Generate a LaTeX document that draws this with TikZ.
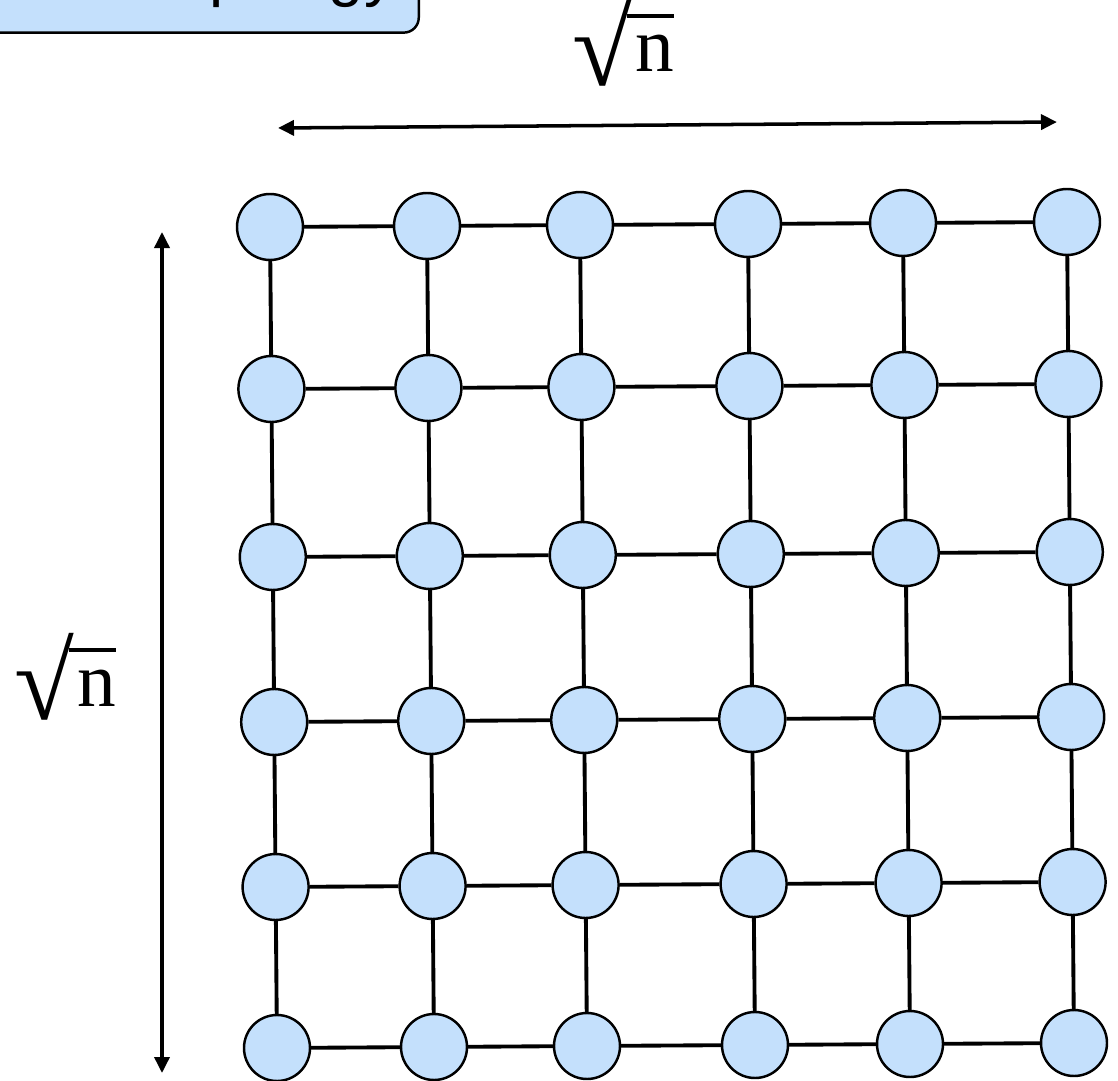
\documentclass[tikz,border=0pt]{standalone}
\usepackage{fontspec}
\setmainfont{Liberation Serif}
\setsansfont{Liberation Sans}
\usetikzlibrary{arrows.meta,positioning}
\definecolor{meshInk}{HTML}{000000}
\definecolor{meshFill}{HTML}{C4E0FC}
\tikzset{
  mesh node/.style={circle, draw=meshInk, line width=1.4pt, fill=meshFill,
    minimum size=13.2mm, inner sep=0pt},
  mesh link/.style={draw=meshInk, line width=2.2pt},
  mesh dim/.style={{Triangle[length=3.2mm,width=3mm]}-{Triangle[length=3.2mm,width=3mm]},
    draw=meshInk, line width=2pt},
  mesh label/.style={font=\fontsize{44}{48}\selectfont, inner sep=0pt},
  mesh title/.style={draw=meshInk, line width=1.4pt, rounded corners=3mm,
    fill=meshFill, font=\sffamily\fontsize{36}{40}\selectfont,
    inner xsep=4.6mm, inner ysep=4.9mm}
}
\newcommand{\meshsize}{\raisebox{-0.17em}{\fontsize{62}{62}\selectfont √}\kern-0.06em
  \rlap{\rule[0.70em]{0.6em}{0.045em}}\kern0.1em n}
\begin{document}
\begin{tikzpicture}[x=0.2mm,y=-0.2mm]
  \useasboundingbox (0,0) rectangle (1118,1081);
  % title box, mostly above the page
  \node[mesh title, anchor=base east] (title) at (420,-5) {Mesh Topology};
  % size arrows
  \coordinate (wl) at (278,128);
  \coordinate (wr) at (1057,122);
  \coordinate (ht) at (162,232);
  \coordinate (hb) at (162,1073);
  \draw[mesh dim] (wl) -- (wr);
  \draw[mesh dim] (ht) -- (hb);
  \node[mesh label, anchor=base] (wlab) at (623,72) {\meshsize};
  \node[mesh label, anchor=base] (hlab) at (65,706) {\meshsize};
  % the 6x6 mesh
  \foreach \c/\xc in {1/270,2/427,3/580,4/748,5/903,6/1067}{
    \foreach \r/\yr in {1/227,2/389,3/557,4/722,5/887,6/1048}{
      \node[mesh node] (n\r\c) at ({\xc+1.4*(\r-1)},{\yr-(\c-1)}) {};
    }
  }
  \foreach \r in {1,...,6}{
    \foreach \c [evaluate=\c as \cn using int(\c+1)] in {1,...,5}{
      \draw[mesh link] (n\r\c) -- (n\r\cn);
      \draw[mesh link] (n\c\r) -- (n\cn\r);
    }
  }
\end{tikzpicture}
\end{document}
